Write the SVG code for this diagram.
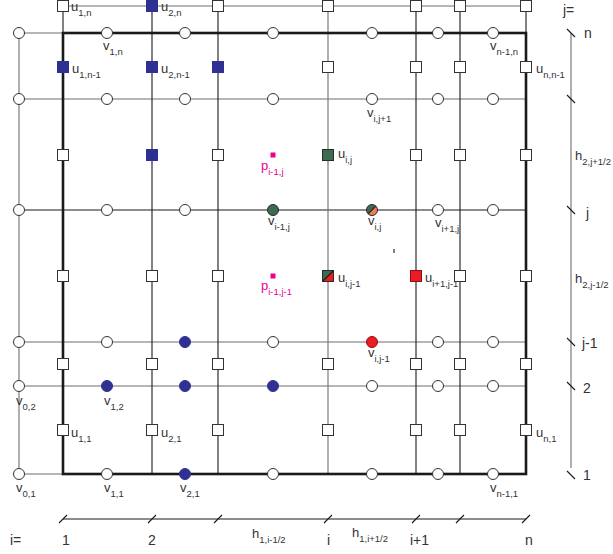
<svg xmlns="http://www.w3.org/2000/svg" width="613" height="554" viewBox="0 0 613 554">
<style>
.dk{stroke:#1a1a1a;stroke-width:1.1;fill:none}
.gr{stroke:#6e6e6e;stroke-width:1.1;fill:none}
.tk{stroke:#1a1a1a;stroke-width:2.6;fill:none}
.v{fill:#fff;stroke:#333;stroke-width:1}
.u{fill:#fff;stroke:#333;stroke-width:1}
.b{fill:#2e3192;stroke:#2e3192;stroke-width:1}
.g{fill:#3d6b52;stroke:#2a2a2a;stroke-width:1}
.r{fill:#ed1c24;stroke:#8a1015;stroke-width:1}
.p{fill:#ec008c}
text{font-family:"Liberation Sans",Arial,sans-serif;fill:#333}
.l{font-size:13px}
.n{font-size:14px}
.s{font-size:9.5px}
.pk{fill:#ec008c}
</style>
<g id="connectors">
<line class="gr" x1="63" y1="6" x2="526" y2="6"/>
<line class="gr" x1="19" y1="33" x2="63" y2="33"/>
<line class="gr" x1="19" y1="99" x2="526" y2="99"/>
<line class="dk" x1="19" y1="210" x2="526" y2="210"/>
<line class="gr" x1="19" y1="342" x2="526" y2="342"/>
<line class="gr" x1="19" y1="386" x2="526" y2="386"/>
<line class="gr" x1="19" y1="474" x2="63" y2="474"/>
<line class="gr" x1="19" y1="33" x2="19" y2="474"/>
<line class="dk" x1="63" y1="6" x2="63" y2="33"/>
<line class="dk" x1="526" y1="6" x2="526" y2="33"/>
<line class="dk" x1="152" y1="6" x2="152" y2="474"/>
<line class="dk" x1="218" y1="6" x2="218" y2="474"/>
<line class="gr" x1="328" y1="6" x2="328" y2="474"/>
<line class="dk" x1="416" y1="6" x2="416" y2="474"/>
<line class="dk" x1="460" y1="6" x2="460" y2="474"/>
<rect class="tk" x="63" y="33" width="463" height="441"/>
<line class="dk" x1="394" y1="249" x2="394" y2="253"/>
</g>
<g id="scale-j">
<line class="gr" x1="571" y1="33" x2="571" y2="468"/>
<path class="dk" d="M567,29 L575,37 M567,95 L575,103 M567,206 L575,214 M567,338 L575,346 M567,382 L575,390 M567,471 L575,479"/>
<text class="n" x="563" y="15">j=</text>
<text class="n" x="584" y="38">n</text>
<text class="n" x="586" y="218">j</text>
<text class="n" x="582" y="348">j-1</text>
<text class="n" x="583" y="393">2</text>
<text class="n" x="583" y="480">1</text>
<text class="l" x="575" y="160">h<tspan class="s" dy="5">2,j+1/2</tspan></text>
<text class="l" x="575" y="283">h<tspan class="s" dy="5">2,j-1/2</tspan></text>
</g>
<g id="scale-i">
<line class="dk" x1="63" y1="519" x2="526" y2="519"/>
<path class="dk" d="M59,523 L67,515 M148,523 L156,515 M214,523 L222,515 M324,523 L332,515 M412,523 L420,515 M456,523 L464,515 M522,523 L530,515"/>
<text class="n" x="10" y="545">i=</text>
<text class="n" x="62" y="545">1</text>
<text class="n" x="148" y="545">2</text>
<text class="n" x="327" y="545">i</text>
<text class="n" x="410" y="545">i+1</text>
<text class="n" x="525" y="545">n</text>
<text class="l" x="252" y="538">h<tspan class="s" dy="5">1,i-1/2</tspan></text>
<text class="l" x="352" y="537">h<tspan class="s" dy="5">1,i+1/2</tspan></text>
</g>
<!-- u nodes -->
<g id="u-1-n"><rect class="u" x="57.5" y="0.5" width="11" height="11"/><text class="l" x="71" y="11">u<tspan class="s" dy="5">1,n</tspan></text></g>
<g id="u-2-n"><rect class="b" x="146.5" y="0.5" width="11" height="11"/><text class="l" x="161" y="11">u<tspan class="s" dy="5">2,n</tspan></text></g>
<g id="u-3-n"><rect class="u" x="212.5" y="0.5" width="11" height="11"/></g>
<g id="u-i-n"><rect class="u" x="322.5" y="0.5" width="11" height="11"/></g>
<g id="u-i1-n"><rect class="u" x="410.5" y="0.5" width="11" height="11"/></g>
<g id="u-n1-n"><rect class="u" x="454.5" y="0.5" width="11" height="11"/></g>
<g id="u-n-n"><rect class="u" x="520.5" y="0.5" width="11" height="11"/></g>

<g id="u-1-n1"><rect class="b" x="57.5" y="61.5" width="11" height="11"/><text class="l" x="72" y="73">u<tspan class="s" dy="5">1,n-1</tspan></text></g>
<g id="u-2-n1"><rect class="b" x="146.5" y="61.5" width="11" height="11"/><text class="l" x="161" y="73">u<tspan class="s" dy="5">2,n-1</tspan></text></g>
<g id="u-3-n1"><rect class="b" x="212.5" y="61.5" width="11" height="11"/></g>
<g id="u-i-n1"><rect class="u" x="322.5" y="61.5" width="11" height="11"/></g>
<g id="u-i1-n1"><rect class="u" x="410.5" y="61.5" width="11" height="11"/></g>
<g id="u-n1-n1"><rect class="u" x="454.5" y="61.5" width="11" height="11"/></g>
<g id="u-n-n1"><rect class="u" x="520.5" y="61.5" width="11" height="11"/><text class="l" x="536" y="73">u<tspan class="s" dy="5">n,n-1</tspan></text></g>

<g id="u-1-j"><rect class="u" x="57.5" y="149.5" width="11" height="11"/></g>
<g id="u-2-j"><rect class="b" x="146.5" y="149.5" width="11" height="11"/></g>
<g id="u-3-j"><rect class="u" x="212.5" y="149.5" width="11" height="11"/></g>
<g id="u-i-j"><rect class="g" x="322.5" y="149.5" width="11" height="11"/><text class="l" x="338" y="158">u<tspan class="s" dy="5">i,j</tspan></text></g>
<g id="u-i1-j"><rect class="u" x="410.5" y="149.5" width="11" height="11"/></g>
<g id="u-n1-j"><rect class="u" x="454.5" y="149.5" width="11" height="11"/></g>
<g id="u-n-j"><rect class="u" x="520.5" y="149.5" width="11" height="11"/></g>

<g id="u-1-j1"><rect class="u" x="57.5" y="270.5" width="11" height="11"/></g>
<g id="u-2-j1"><rect class="u" x="146.5" y="270.5" width="11" height="11"/></g>
<g id="u-3-j1"><rect class="u" x="212.5" y="270.5" width="11" height="11"/></g>
<g id="u-i-j1">
<path fill="#3d6b52" d="M322.5,270.5 H333.5 L322.5,281.5 Z"/>
<path fill="#ed1c24" d="M333.5,270.5 V281.5 H322.5 Z"/>
<path class="dk" d="M322.5,281.5 L333.5,270.5"/>
<rect x="322.5" y="270.5" width="11" height="11" fill="none" stroke="#2a2a2a" stroke-width="1"/>
<text class="l" x="338" y="282">u<tspan class="s" dy="5">i,j-1</tspan></text></g>
<g id="u-i1-j1"><rect class="r" x="410.5" y="270.5" width="11" height="11"/><text class="l" x="425" y="282">u<tspan class="s" dy="5">i+1,j-1</tspan></text></g>
<g id="u-n1-j1"><rect class="u" x="454.5" y="270.5" width="11" height="11"/></g>
<g id="u-n-j1"><rect class="u" x="520.5" y="270.5" width="11" height="11"/></g>

<g id="u-1-2"><rect class="u" x="57.5" y="358.5" width="11" height="11"/></g>
<g id="u-2-2"><rect class="u" x="146.5" y="358.5" width="11" height="11"/></g>
<g id="u-3-2"><rect class="u" x="212.5" y="358.5" width="11" height="11"/></g>
<g id="u-i-2"><rect class="u" x="322.5" y="358.5" width="11" height="11"/></g>
<g id="u-i1-2"><rect class="u" x="410.5" y="358.5" width="11" height="11"/></g>
<g id="u-n1-2"><rect class="u" x="454.5" y="358.5" width="11" height="11"/></g>
<g id="u-n-2"><rect class="u" x="520.5" y="358.5" width="11" height="11"/></g>

<g id="u-1-1"><rect class="u" x="57.5" y="424.5" width="11" height="11"/><text class="l" x="71" y="437">u<tspan class="s" dy="5">1,1</tspan></text></g>
<g id="u-2-1"><rect class="u" x="146.5" y="424.5" width="11" height="11"/><text class="l" x="161" y="437">u<tspan class="s" dy="5">2,1</tspan></text></g>
<g id="u-3-1"><rect class="u" x="212.5" y="424.5" width="11" height="11"/></g>
<g id="u-i-1"><rect class="u" x="322.5" y="424.5" width="11" height="11"/></g>
<g id="u-i1-1"><rect class="u" x="410.5" y="424.5" width="11" height="11"/></g>
<g id="u-n1-1"><rect class="u" x="454.5" y="424.5" width="11" height="11"/></g>
<g id="u-n-1"><rect class="u" x="520.5" y="424.5" width="11" height="11"/><text class="l" x="536" y="437">u<tspan class="s" dy="5">n,1</tspan></text></g>

<!-- v nodes -->
<g id="v-0-n"><circle class="v" cx="19" cy="33" r="5.5"/></g>
<g id="v-1-n"><circle class="v" cx="107" cy="33" r="5.5"/><text class="l" x="103" y="50">v<tspan class="s" dy="5">1,n</tspan></text></g>
<g id="v-2-n"><circle class="v" cx="185" cy="33" r="5.5"/></g>
<g id="v-i1-n"><circle class="v" cx="273" cy="33" r="5.5"/></g>
<g id="v-i-n"><circle class="v" cx="372" cy="33" r="5.5"/></g>
<g id="v-ip-n"><circle class="v" cx="438" cy="33" r="5.5"/></g>
<g id="v-n1-n"><circle class="v" cx="493" cy="33" r="5.5"/><text class="l" x="490" y="50">v<tspan class="s" dy="5">n-1,n</tspan></text></g>

<g id="v-0-j1"><circle class="v" cx="19" cy="99" r="5.5"/></g>
<g id="v-1-j1"><circle class="v" cx="107" cy="99" r="5.5"/></g>
<g id="v-2-j1"><circle class="v" cx="185" cy="99" r="5.5"/></g>
<g id="v-i1-j1"><circle class="v" cx="273" cy="99" r="5.5"/></g>
<g id="v-i-j1"><circle class="v" cx="372" cy="99" r="5.5"/><text class="l" x="367" y="117">v<tspan class="s" dy="5">i,j+1</tspan></text></g>
<g id="v-ip-j1"><circle class="v" cx="438" cy="99" r="5.5"/></g>
<g id="v-n1-j1"><circle class="v" cx="493" cy="99" r="5.5"/></g>

<g id="v-0-j"><circle class="v" cx="19" cy="210" r="5.5"/></g>
<g id="v-1-j"><circle class="v" cx="107" cy="210" r="5.5"/></g>
<g id="v-2-j"><circle class="v" cx="185" cy="210" r="5.5"/></g>
<g id="v-i1-j"><circle class="g" cx="273" cy="210" r="5.5"/><text class="l" x="268" y="225">v<tspan class="s" dy="5">i-1,j</tspan></text></g>
<g id="v-i-j">
<path fill="#3d6b52" d="M375.9,206.1 A5.5,5.5 0 0 0 368.1,213.9 Z"/>
<path fill="#f47a5a" d="M375.9,206.1 A5.5,5.5 0 0 1 368.1,213.9 Z"/>
<path class="dk" d="M375.9,206.1 L368.1,213.9"/>
<circle cx="372" cy="210" r="5.5" fill="none" stroke="#2a2a2a" stroke-width="1"/>
<text class="l" x="368" y="225">v<tspan class="s" dy="5">i,j</tspan></text></g>
<g id="v-ip-j"><circle class="v" cx="438" cy="210" r="5.5"/><text class="l" x="435" y="227">v<tspan class="s" dy="5">i+1,j</tspan></text></g>
<g id="v-n1-j"><circle class="v" cx="493" cy="210" r="5.5"/></g>

<g id="v-0-jm"><circle class="v" cx="19" cy="342" r="5.5"/></g>
<g id="v-1-jm"><circle class="v" cx="107" cy="342" r="5.5"/></g>
<g id="v-2-jm"><circle class="b" cx="185" cy="342" r="5.5"/></g>
<g id="v-i1-jm"><circle class="v" cx="273" cy="342" r="5.5"/></g>
<g id="v-i-jm"><circle class="r" cx="372" cy="342" r="5.5"/><text class="l" x="368" y="357">v<tspan class="s" dy="5">i,j-1</tspan></text></g>
<g id="v-ip-jm"><circle class="v" cx="438" cy="342" r="5.5"/></g>
<g id="v-n1-jm"><circle class="v" cx="493" cy="342" r="5.5"/></g>

<g id="v-0-2"><circle class="v" cx="19" cy="386" r="5.5"/><text class="l" x="16" y="405">v<tspan class="s" dy="5">0,2</tspan></text></g>
<g id="v-1-2"><circle class="b" cx="107" cy="386" r="5.5"/><text class="l" x="104" y="405">v<tspan class="s" dy="5">1,2</tspan></text></g>
<g id="v-2-2"><circle class="b" cx="185" cy="386" r="5.5"/></g>
<g id="v-i1-2"><circle class="b" cx="273" cy="386" r="5.5"/></g>
<g id="v-i-2"><circle class="v" cx="372" cy="386" r="5.5"/></g>
<g id="v-ip-2"><circle class="v" cx="438" cy="386" r="5.5"/></g>
<g id="v-n1-2"><circle class="v" cx="493" cy="386" r="5.5"/></g>

<g id="v-0-1"><circle class="v" cx="19" cy="474" r="5.5"/><text class="l" x="16" y="492">v<tspan class="s" dy="5">0,1</tspan></text></g>
<g id="v-1-1"><circle class="v" cx="107" cy="474" r="5.5"/><text class="l" x="104" y="492">v<tspan class="s" dy="5">1,1</tspan></text></g>
<g id="v-2-1"><circle class="b" cx="185" cy="474" r="5.5"/><text class="l" x="180" y="492">v<tspan class="s" dy="5">2,1</tspan></text></g>
<g id="v-i1-1"><circle class="v" cx="273" cy="474" r="5.5"/></g>
<g id="v-i-1"><circle class="v" cx="372" cy="474" r="5.5"/></g>
<g id="v-ip-1"><circle class="v" cx="438" cy="474" r="5.5"/></g>
<g id="v-n1-1"><circle class="v" cx="493" cy="474" r="5.5"/><text class="l" x="490" y="492">v<tspan class="s" dy="5">n-1,1</tspan></text></g>

<!-- p nodes -->
<g id="p-i1-j"><rect class="p" x="270.5" y="152.5" width="5" height="5"/><text class="l pk" x="261" y="170">p<tspan class="s pk" dy="5">i-1,j</tspan></text></g>
<g id="p-i1-j1"><rect class="p" x="270.5" y="273.5" width="5" height="5"/><text class="l pk" x="261" y="290">p<tspan class="s pk" dy="5">i-1,j-1</tspan></text></g>
</svg>
